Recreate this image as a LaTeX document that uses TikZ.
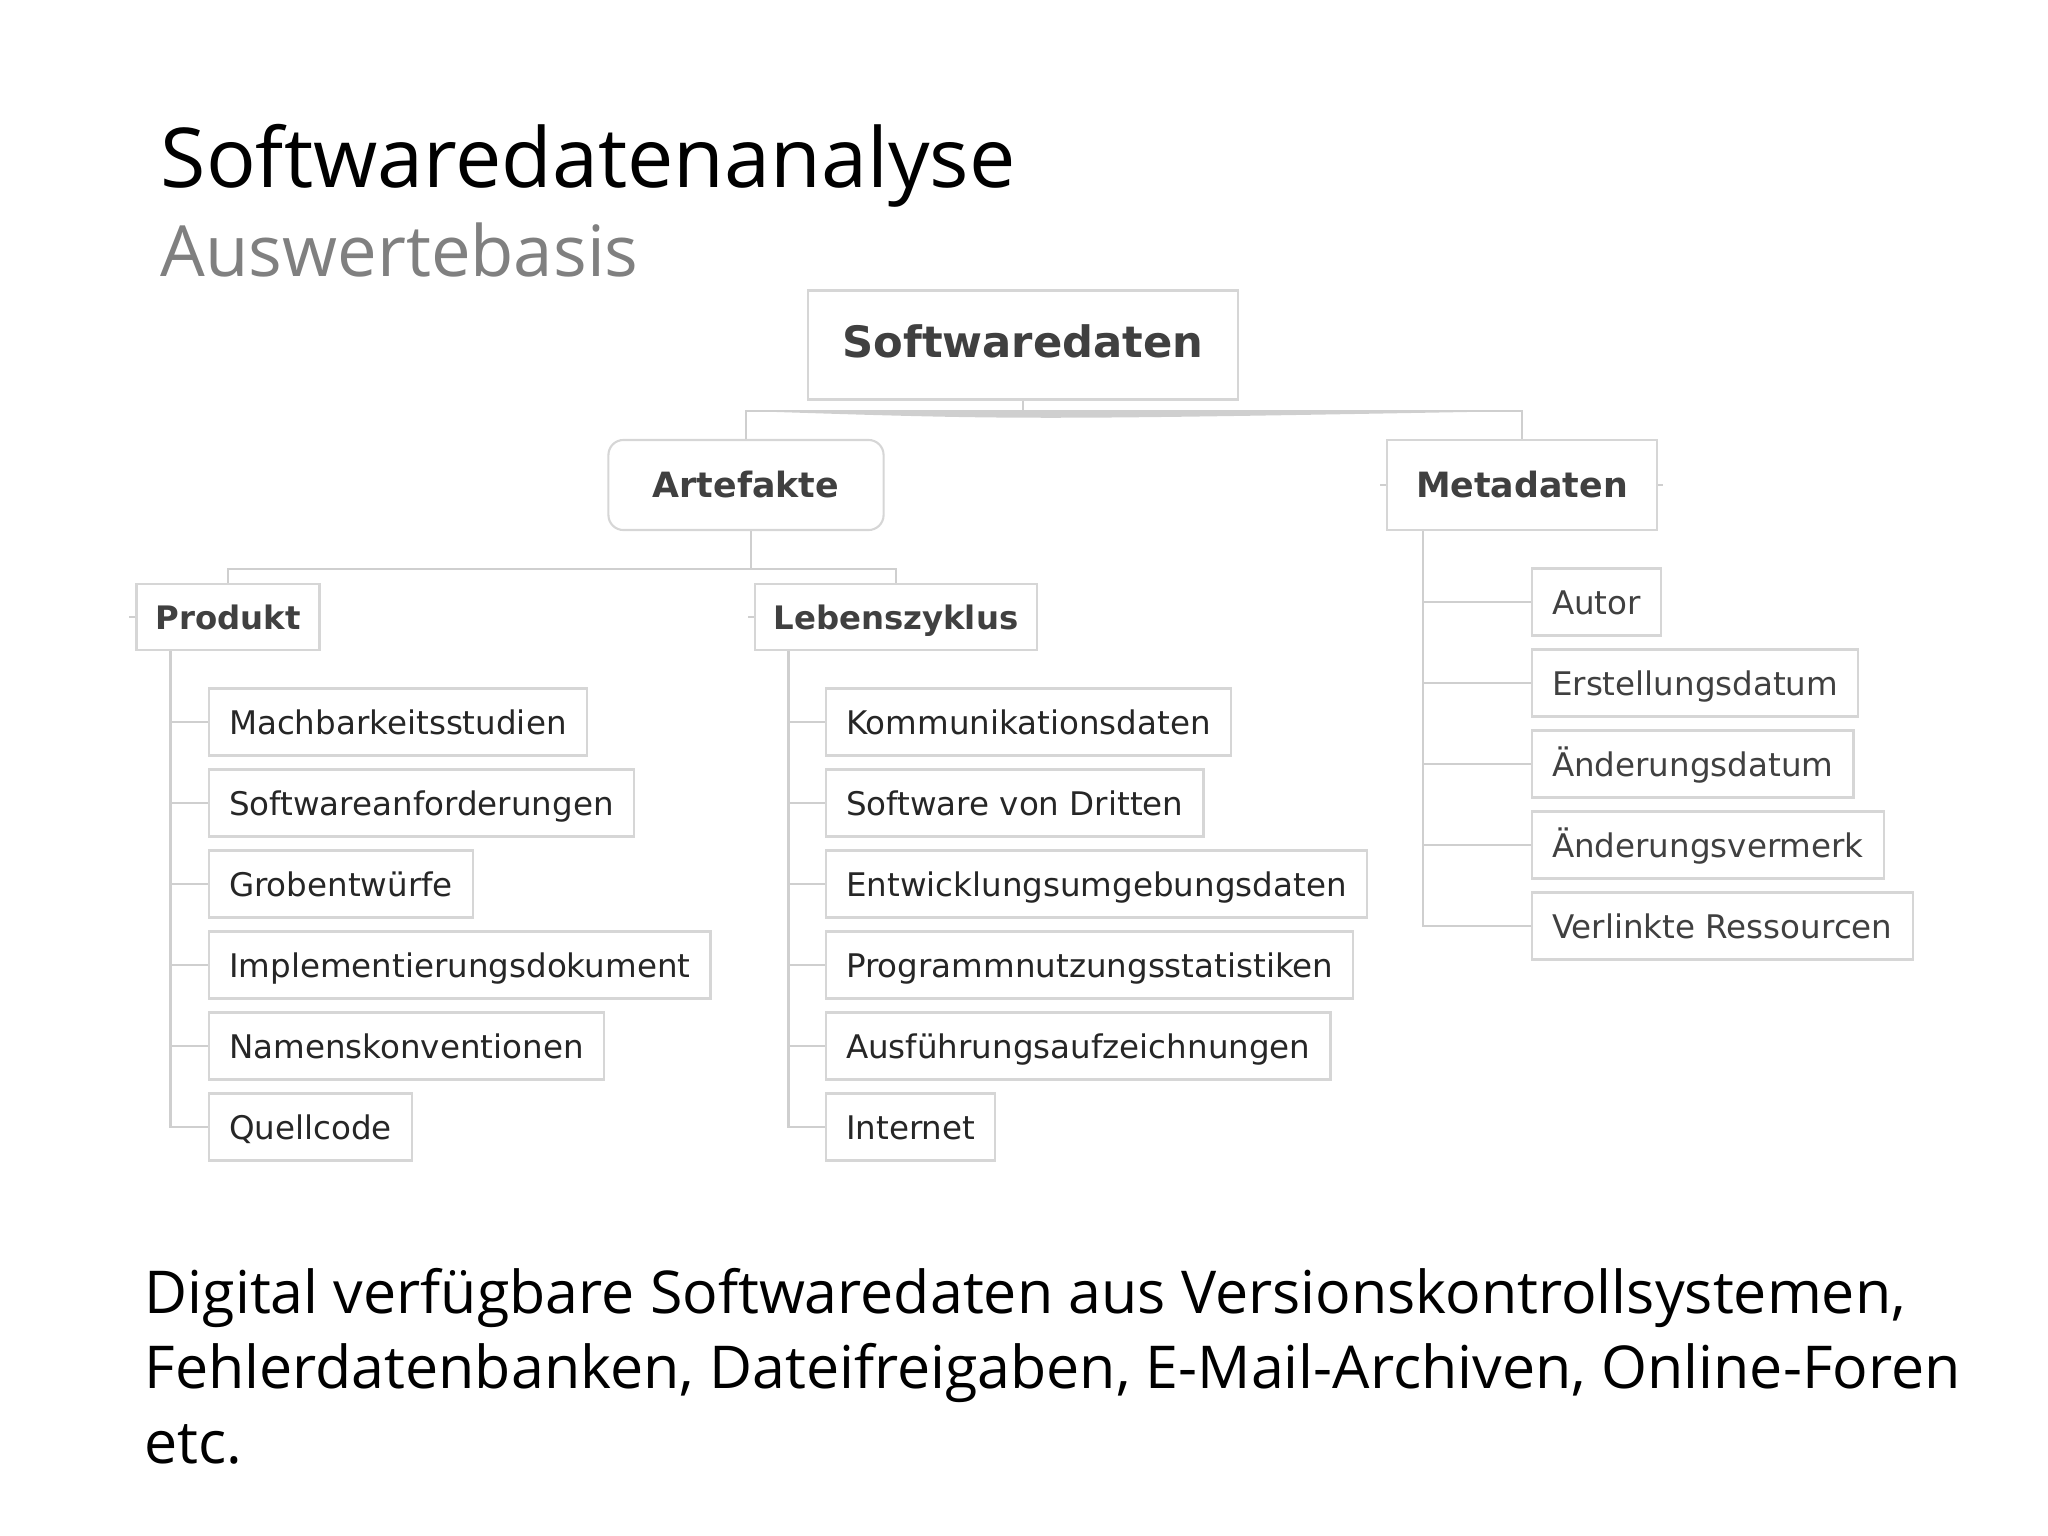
\documentclass[tikz,border=0pt]{standalone}
\usepackage{fontspec}
\setmainfont{Open Sans}
\newfontfamily\mapfont{DejaVu Sans}
\usetikzlibrary{positioning}
\definecolor{boxLine}{HTML}{D6D6D6}
\definecolor{linkGray}{HTML}{CFCFCF}
\definecolor{headText}{HTML}{404040}
\definecolor{leafText}{HTML}{262626}
\definecolor{subGray}{HTML}{808080}

\tikzset{
	leaf/.style = {draw = boxLine, line width = 0.6pt, anchor = west, minimum height = 6.7mm,
		inner xsep = 2mm, inner ysep = 0pt, text height = 0.73em, text depth = 0pt,
		text = leafText, font = \mapfont\fontsize{9.25}{11}\selectfont},
	head/.style = {draw = boxLine, line width = 0.6pt, minimum height = 6.6mm, inner xsep = 1.9mm,
		inner ysep = 0pt, text height = 0.73em, text depth = 0pt,
		text = headText, font = \mapfont\bfseries\fontsize{9.2}{11}\selectfont},
	link/.style = {draw = linkGray, line width = 0.7pt},
	note/.style = {anchor = base west, inner sep = 0pt, font = \fontsize{16.8}{19}\selectfont},
}

\begin{document}
\begin{tikzpicture}[x = 0.01cm, y = -0.01cm]
		\useasboundingbox (0, 0) rectangle (2048, 1536);
		%%%%%%%%%%%%%
		\node (title) [anchor = base west, inner sep = 0pt, font = \fontsize{23.5}{26}\selectfont] at (160, 187) {Softwaredatenanalyse};
		\node (subtitle) [anchor = base west, inner sep = 0pt, text = subGray, font = \fontsize{20.1}{23}\selectfont] at (160, 276) {Auswertebasis};
		%%%%%%%%%%%%%
		\node (root) [head, minimum width = 4.3cm, minimum height = 10.9mm, font = \mapfont\bfseries\fontsize{12.3}{14}\selectfont] at (1023, 345) {Softwaredaten};
		\node (art) [head, rounded corners = 1.5mm, minimum width = 2.75cm, minimum height = 9mm, font = \mapfont\bfseries\fontsize{9.9}{12}\selectfont] at (746, 485) {Artefakte};
		\node (meta) [head, minimum width = 2.7cm, minimum height = 9mm, font = \mapfont\bfseries\fontsize{9.9}{12}\selectfont] at (1522, 485) {Metadaten};
		\node (prod) [head] at (228, 617) {Produkt};
		\node (life) [head] at (896, 617) {Lebenszyklus};
		%%%%%%%%%%%%%
		\node (p1) [leaf] at (208, 722) {Machbarkeitsstudien};
		\node (p2) [leaf] at (208, 803) {Softwareanforderungen};
		\node (p3) [leaf] at (208, 884) {Grobentwürfe};
		\node (p4) [leaf] at (208, 965) {Implementierungsdokument};
		\node (p5) [leaf] at (208, 1046) {Namenskonventionen};
		\node (p6) [leaf] at (208, 1127) {Quellcode};
		%%%%%%%%%%%%%
		\node (l1) [leaf] at (825, 722) {Kommunikationsdaten};
		\node (l2) [leaf] at (825, 803) {Software von Dritten};
		\node (l3) [leaf] at (825, 884) {Entwicklungsumgebungsdaten};
		\node (l4) [leaf] at (825, 965) {Programmnutzungsstatistiken};
		\node (l5) [leaf] at (825, 1046) {Ausführungsaufzeichnungen};
		\node (l6) [leaf] at (825, 1127) {Internet};
		%%%%%%%%%%%%%
		\node (m1) [leaf, text = headText] at (1531, 602) {Autor};
		\node (m2) [leaf, text = headText] at (1531, 683) {Erstellungsdatum};
		\node (m3) [leaf, text = headText] at (1531, 764) {Änderungsdatum};
		\node (m4) [leaf, text = headText] at (1531, 845) {Änderungsvermerk};
		\node (m5) [leaf, text = headText] at (1531, 926) {Verlinkte Ressourcen};
		%%%%%%%%%%%%%
		\node (note1) [note] at (144, 1313) {Digital verfügbare Softwaredaten aus Versionskontrollsystemen,};
		\node (note2) [note] at (144, 1388) {Fehlerdatenbanken, Dateifreigaben, E-Mail-Archiven, Online-Foren};
		\node (note3) [note] at (144, 1463) {etc.};
		%%%%%%%%%%%%%
		\coordinate (j1) at (1023, 411);
		\coordinate (j2) at (751, 569);
		\coordinate (pv) at ([xshift = 3.5mm]prod.south west);
		\coordinate (lv) at ([xshift = 3.5mm]life.south west);
		\coordinate (mv) at ([xshift = 3.7mm]meta.south west);
		%%%%%%%%%%%%%
		\draw [link] (root) to (j1);
		\draw [link] (art.north) |- (j1) -| (meta.north);
		\fill [linkGray] (art.north |- j1) .. controls (1023, 410) and (1023, 410) .. (meta.north |- j1)
			.. controls (1023, 420) and (1023, 420) .. (art.north |- j1);
		\draw [link] (j2 |- art.south) to (j2);
		\draw [link] (prod.north) |- (j2) -| (life.north);
		\draw [link] (prod.west) -- ++(-6, 0); \draw [link] (life.west) -- ++(-6, 0);
		\draw [link] (meta.west) -- ++(-6, 0); \draw [link] (meta.east) -- ++(5, 0);
		\draw [link] (pv) |- (p1.west); \draw [link] (pv) |- (p2.west); \draw [link] (pv) |- (p3.west);
		\draw [link] (pv) |- (p4.west); \draw [link] (pv) |- (p5.west); \draw [link] (pv) |- (p6.west);
		\draw [link] (lv) |- (l1.west); \draw [link] (lv) |- (l2.west); \draw [link] (lv) |- (l3.west);
		\draw [link] (lv) |- (l4.west); \draw [link] (lv) |- (l5.west); \draw [link] (lv) |- (l6.west);
		\draw [link] (mv) |- (m1.west); \draw [link] (mv) |- (m2.west); \draw [link] (mv) |- (m3.west);
		\draw [link] (mv) |- (m4.west); \draw [link] (mv) |- (m5.west);
\end{tikzpicture}
\end{document}
